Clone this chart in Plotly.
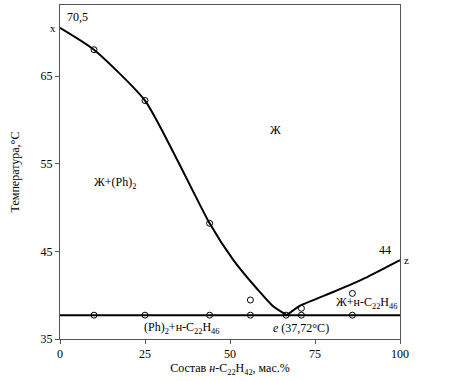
import plotly.graph_objects as go

# Liquidus curves (mass % n-C22H42, temperature °C)
left_x = [0, 10, 25, 34, 44, 51, 58, 62.5, 66.7]
left_t = [70.5, 68.0, 62.2, 55.8, 48.2, 44.0, 40.7, 38.8, 37.72]
right_x = [66.7, 70.6, 80, 90, 100]
right_t = [37.72, 38.8, 40.3, 42.0, 44.0]
eut_x = [0, 100]
eut_t = [37.72, 37.72]

# Experimental points
liq_pts_x = [10, 25, 44, 56, 71, 86]
liq_pts_t = [68.0, 62.2, 48.2, 39.45, 38.5, 40.2]
sol_pts_x = [10, 25, 44, 56, 66.5, 71, 86]
sol_pts_t = [37.72] * 7

x_ticks = [0, 25, 50, 75, 100]
y_ticks = [35, 45, 55, 65]

FONT = "Liberation Serif, Times New Roman, serif"

fig = go.Figure()
line_style = dict(color="black", width=2)
fig.add_trace(go.Scatter(x=left_x, y=left_t, mode="lines", line=dict(shape="spline", smoothing=0.6, **line_style), hoverinfo="skip"))
fig.add_trace(go.Scatter(x=right_x, y=right_t, mode="lines", line=dict(shape="spline", smoothing=0.3, **line_style), hoverinfo="skip"))
fig.add_trace(go.Scatter(x=eut_x, y=eut_t, mode="lines", line=line_style, hoverinfo="skip"))
marker = dict(symbol="circle-open", size=6, color="black", line=dict(width=1, color="black"))
fig.add_trace(go.Scatter(x=liq_pts_x, y=liq_pts_t, mode="markers", marker=marker))
fig.add_trace(go.Scatter(x=sol_pts_x, y=sol_pts_t, mode="markers", marker=marker))

ann = [
    dict(x=1.5, y=71.7, text="70,5", xanchor="left"),
    dict(x=95.5, y=45.2, text="44", xanchor="center"),
    dict(x=63.5, y=58.8, text="Ж"),
    dict(x=16.2, y=52.8, text="Ж+(Ph)<sub>2</sub>"),
    dict(x=90, y=39.1, text="Ж+н-C<sub>22</sub>H<sub>46</sub>"),
    dict(x=35.6, y=36.2, text="(Ph)<sub>2</sub>+н-C<sub>22</sub>H<sub>46</sub>"),
    dict(x=71, y=36.2, text="<i>е</i> (37,72°С)"),
]
annotations = []
for a in ann:
    d = dict(xref="x", yref="y", showarrow=False, font=dict(size=12, family=FONT, color="black"))
    d.update(a)
    annotations.append(d)
# markers of the pure components, outside the plotting area
annotations.append(dict(xref="paper", yref="y", x=-0.005, y=70.5, text="x", xanchor="right",
                        showarrow=False, font=dict(size=11, family=FONT, color="black")))
annotations.append(dict(xref="paper", yref="y", x=1.005, y=44.0, text="z", xanchor="left",
                        showarrow=False, font=dict(size=11, family=FONT, color="black")))

fig.update_layout(
    width=476, height=381,
    margin=dict(l=60, r=76, t=5, b=42),
    paper_bgcolor="white", plot_bgcolor="white",
    showlegend=False,
    font=dict(family=FONT, size=12, color="black"),
    annotations=annotations,
    xaxis=dict(range=[0, 100], tickvals=x_ticks, showgrid=False, zeroline=False,
               showline=True, linecolor="#555", linewidth=1, mirror=True,
               ticks="outside", ticklen=4, tickcolor="#555", automargin=False,
               title=dict(text="Состав <i>н</i>-C<sub>22</sub>H<sub>42</sub>, мас.%", standoff=2,
                          font=dict(size=12, family=FONT))),
    yaxis=dict(range=[35, 73.1], tickvals=y_ticks, showgrid=False, zeroline=False,
               showline=True, linecolor="#555", linewidth=1, mirror=True,
               ticks="outside", ticklen=4, tickcolor="#555", automargin=False,
               title=dict(text="Температура,°С", standoff=18, font=dict(size=12, family=FONT))),
)
fig.write_html("out.html", config={"displayModeBar": False},
               post_script="document.body.style.margin='0';document.body.style.overflow='hidden';")
